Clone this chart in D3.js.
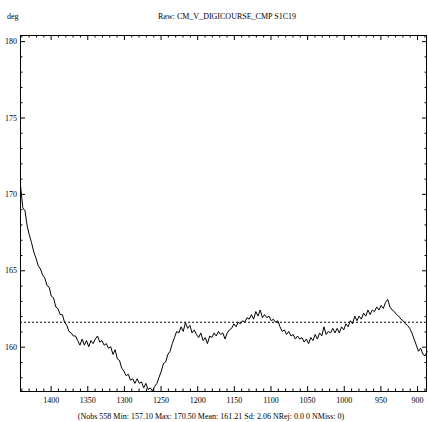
<!DOCTYPE html>
<html>
<head>
<meta charset="utf-8">
<script src="https://cdn.jsdelivr.net/npm/d3@7"></script>
<style>
  body { margin: 0; background: #fff; }
  svg { display: block; font-family: "Liberation Serif", "DejaVu Serif", serif; }
</style>
</head>
<body>
<svg id="drawing_region"></svg>
<script>
// record numbers (x) and raw heading in deg (y)
const records = [
  1441, 1438, 1435, 1432, 1429, 1426, 1423, 1420, 1417, 1414, 1411, 1408, 1405, 1402, 1399, 1396,
  1393, 1390, 1387, 1384, 1381, 1378, 1375, 1372, 1369, 1366, 1363, 1360, 1357, 1354, 1351, 1348,
  1345, 1342, 1339, 1336, 1333, 1330, 1327, 1324, 1321, 1318, 1315, 1312, 1309, 1306, 1303, 1300,
  1297, 1294, 1291, 1288, 1285, 1282, 1279, 1276, 1273, 1270, 1267, 1264, 1261, 1258, 1255, 1252,
  1249, 1246, 1243, 1240, 1237, 1234, 1231, 1228, 1225, 1222, 1219, 1216, 1213, 1210, 1207, 1204,
  1201, 1198, 1195, 1192, 1189, 1186, 1183, 1180, 1177, 1174, 1171, 1168, 1165, 1162, 1159, 1156,
  1153, 1150, 1147, 1144, 1141, 1138, 1135, 1132, 1129, 1126, 1123, 1120, 1117, 1114, 1111, 1108,
  1105, 1102, 1099, 1096, 1093, 1090, 1087, 1084, 1081, 1078, 1075, 1072, 1069, 1066, 1063, 1060,
  1057, 1054, 1051, 1048, 1045, 1042, 1039, 1036, 1033, 1030, 1027, 1024, 1021, 1018, 1015, 1012,
  1009, 1006, 1003, 1000, 997, 994, 991, 988, 985, 982, 979, 976, 973, 970, 967, 964,
  961, 958, 955, 952, 949, 946, 943, 940, 937, 934, 931, 928, 925, 922, 919, 916,
  913, 910, 907, 904, 901, 898, 895, 892, 889, 886
];
const headings = [
  170.5, 169.1, 168.9, 167.9, 167.3, 166.8, 166.2, 165.8, 165.3, 165.1, 164.7, 164.5, 164.0, 163.9, 163.3, 163.2,
  162.6, 162.5, 162.1, 162.1, 161.6, 161.4, 161.0, 160.9, 160.7, 160.7, 160.4, 160.1, 160.5, 160.1, 160.4, 160.0,
  160.4, 160.2, 160.5, 160.7, 160.3, 160.4, 160.1, 160.2, 159.9, 160.0, 159.5, 159.8, 159.2, 159.1, 158.6, 158.4,
  158.1, 158.2, 157.8, 157.9, 157.6, 157.9, 157.6, 157.7, 157.3, 157.6, 157.2, 157.3, 157.1, 157.4, 157.6, 158.0,
  158.4, 158.9, 159.0, 159.5, 159.7, 160.2, 160.6, 161.0, 160.9, 161.3, 161.0, 161.6, 161.2, 161.4, 160.9, 161.1,
  160.8, 160.6, 160.9, 160.4, 160.6, 160.2, 160.7, 160.6, 160.9, 160.7, 161.0, 160.8, 160.9, 160.5, 160.9, 161.1,
  161.2, 161.5, 161.3, 161.6, 161.5, 161.7, 161.6, 161.9, 161.8, 162.1, 161.8, 162.3, 162.0, 162.4, 161.9, 162.1,
  161.9, 162.0, 161.7, 161.8, 161.6, 161.7, 161.3, 161.0, 161.1, 160.8, 161.0, 160.7, 160.8, 160.5, 160.7, 160.5,
  160.6, 160.3, 160.5, 160.2, 160.6, 160.4, 160.8, 160.5, 160.9, 160.7, 161.3, 160.8, 161.0, 160.9, 161.2, 160.9,
  161.2, 160.9, 161.3, 161.1, 161.5, 161.3, 161.7, 161.5, 162.0, 161.7, 162.0, 161.8, 162.2, 162.0, 162.4, 162.1,
  162.4, 162.3, 162.6, 162.4, 162.7, 162.5, 162.9, 163.1, 162.6, 162.4, 162.3, 162.1, 162.0, 161.8, 161.7, 161.5,
  161.4, 161.2, 160.9, 160.5, 160.1, 159.7, 159.9, 159.5, 159.4, 159.7
];
const refLevel = 161.6;

const xMajorTicks = [1400, 1350, 1300, 1250, 1200, 1150, 1100, 1050, 1000, 950, 900];
const xMinorTicks = [1440, 1430, 1420, 1410, 1390, 1380, 1370, 1360, 1340, 1330, 1320, 1310,
                     1290, 1280, 1270, 1260, 1240, 1230, 1220, 1210, 1190, 1180, 1170, 1160,
                     1140, 1130, 1120, 1110, 1090, 1080, 1070, 1060, 1040, 1030, 1020, 1010,
                     990, 980, 970, 960, 940, 930, 920, 910, 890];
const yMajorTicks = [160, 165, 170, 175, 180];
const yMinorTicks = [158, 159, 161, 162, 163, 164, 166, 167, 168, 169, 171, 172, 173, 174,
                     176, 177, 178, 179];

const titleText = "Raw: CM_V_DIGICOURSE_CMP S1C19";
const unitText = "deg";
const statsText = "(Nobs 558 Min: 157.10 Max: 170.50 Mean: 161.21 Sd: 2.06 NRej: 0.0 0 NMiss: 0)";

const data = records.map((r, i) => ({ x: r, y: headings[i] }));

const config = {
  parent: '#drawing_region',
  width: 428,
  height: 422,
  margin: { top: 35, right: 1, bottom: 31, left: 20 }
};

const svg = d3.select(config.parent)
  .attr('width', config.width)
  .attr('height', config.height);

const inner_width = config.width - config.margin.left - config.margin.right;
const inner_height = config.height - config.margin.top - config.margin.bottom;

const chart = svg.append('g')
  .attr('transform', `translate(${config.margin.left}, ${config.margin.top})`);

const xscale = d3.scaleLinear().domain([1441.8, 886.4]).range([0, inner_width]);
const yscale = d3.scaleLinear().domain([157.1, 180.4]).range([inner_height, 0]);

function styleAxis(g) {
  g.select('.domain').remove();
  g.selectAll('line').attr('stroke', '#000');
  g.selectAll('text').attr('fill', '#000').attr('font-size', '8px')
    .attr('font-family', '"Liberation Serif", serif');
}

// bottom
chart.append('g')
  .attr('transform', `translate(0, ${inner_height})`)
  .call(d3.axisBottom(xscale).tickValues(xMajorTicks).tickSize(-5).tickPadding(6)
    .tickFormat(d3.format('d')))
  .call(styleAxis);
chart.append('g')
  .attr('transform', `translate(0, ${inner_height})`)
  .call(d3.axisBottom(xscale).tickValues(xMinorTicks).tickSize(-2.5).tickFormat(''))
  .call(styleAxis);
// top
chart.append('g')
  .call(d3.axisTop(xscale).tickValues(xMajorTicks).tickSize(-5).tickFormat(''))
  .call(styleAxis);
chart.append('g')
  .call(d3.axisTop(xscale).tickValues(xMinorTicks).tickSize(-2.5).tickFormat(''))
  .call(styleAxis);
// left
chart.append('g')
  .call(d3.axisLeft(yscale).tickValues(yMajorTicks).tickSize(-5).tickPadding(3)
    .tickFormat(d3.format('d')))
  .call(styleAxis);
chart.append('g')
  .call(d3.axisLeft(yscale).tickValues(yMinorTicks).tickSize(-2.5).tickFormat(''))
  .call(styleAxis);
// right
chart.append('g')
  .attr('transform', `translate(${inner_width}, 0)`)
  .call(d3.axisRight(yscale).tickValues(yMajorTicks).tickSize(-5).tickFormat(''))
  .call(styleAxis);
chart.append('g')
  .attr('transform', `translate(${inner_width}, 0)`)
  .call(d3.axisRight(yscale).tickValues(yMinorTicks).tickSize(-2.5).tickFormat(''))
  .call(styleAxis);

// frame
chart.append('rect')
  .attr('x', 0.5).attr('y', 0.5)
  .attr('width', inner_width - 1).attr('height', inner_height)
  .attr('fill', 'none').attr('stroke', '#000').attr('stroke-width', 1);

// reference level
chart.append('line')
  .attr('x1', 0).attr('x2', inner_width)
  .attr('y1', yscale(refLevel)).attr('y2', yscale(refLevel))
  .attr('stroke', '#000').attr('stroke-width', 1)
  .attr('stroke-dasharray', '2,2');

// trace
const line = d3.line()
  .x(d => xscale(d.x))
  .y(d => yscale(d.y));

chart.append('path')
  .datum(data)
  .attr('d', line)
  .attr('fill', 'none')
  .attr('stroke', '#000')
  .attr('stroke-width', 1);

// texts
svg.append('text')
  .attr('x', 7).attr('y', 19)
  .attr('font-size', '8px')
  .text(unitText);

svg.append('text')
  .attr('x', 227).attr('y', 19)
  .attr('text-anchor', 'middle')
  .attr('font-size', '8px')
  .text(titleText);

svg.append('text')
  .attr('x', 211).attr('y', 419)
  .attr('text-anchor', 'middle')
  .attr('font-size', '8px')
  .text(statsText);
</script>
</body>
</html>
